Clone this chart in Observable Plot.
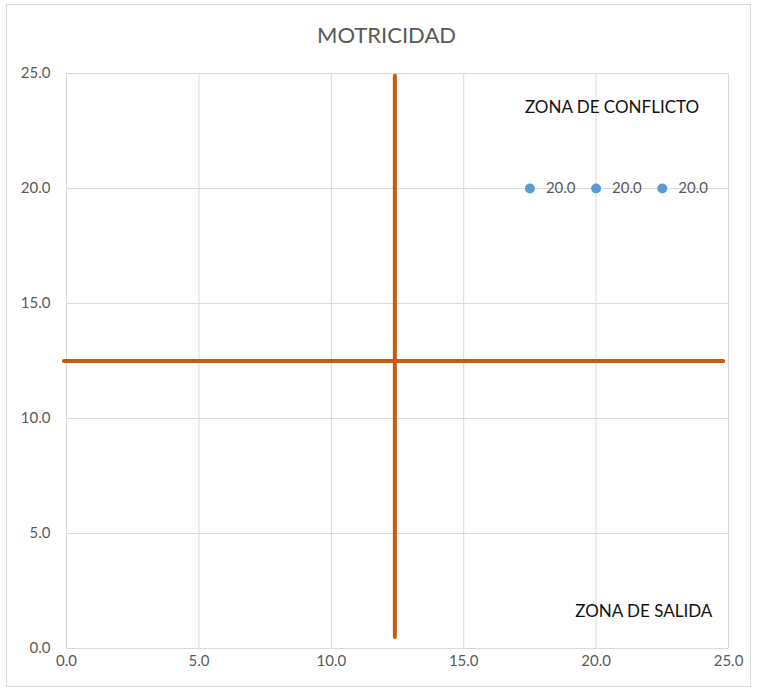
<!DOCTYPE html>
<html>
<head>
<meta charset="utf-8">
<script src="https://cdn.jsdelivr.net/npm/d3@7"></script>
<script src="https://cdn.jsdelivr.net/npm/@observablehq/plot@0.6"></script>
<style>
  html, body { margin: 0; padding: 0; background: #fff; }
  #wrap { position: relative; width: 757px; height: 690px; overflow: hidden; }
  #border { position: absolute; left: 6px; top: 4px; width: 745px; height: 683px; border: 1px solid #d9d9d9; box-sizing: border-box; }
  #title { position: absolute; left: 0; top: 21px; width: 773px; text-align: center; font-family: Lato, "Open Sans", sans-serif; font-size: 22px; color: #595959; }
  #chart { position: absolute; left: 0; top: 0; }
</style>
</head>
<body>
<div id="wrap">
  <div id="border"></div>
  <div id="chart"></div>
  <div id="title">MOTRICIDAD</div>
</div>
<script>
const tickValues = [0, 5, 10, 15, 20, 25];
const pointX = [17.5, 20, 22.5];
const pointY = [20, 20, 20];
const hLineX = [-0.1, 24.8];
const hLineY = [12.5, 12.5];
const vLineX = [12.4, 12.4];
const vLineY = [0.5, 24.9];
const zoneLabels = ["ZONA DE CONFLICTO", "ZONA DE SALIDA"];
const zoneX = [20.6, 21.8];
const zoneY = [23.5, 1.6];

const points = pointX.map((x, i) => ({x, y: pointY[i]}));
const hLine = hLineX.map((x, i) => ({x, y: hLineY[i]}));
const vLine = vLineX.map((x, i) => ({x, y: vLineY[i]}));
const zones = zoneLabels.map((t, i) => ({t, x: zoneX[i], y: zoneY[i]}));
const fmt = d3.format(".1f");

const chart = Plot.plot({
  width: 757,
  height: 690,
  marginLeft: 66,
  marginRight: 29,
  marginTop: 73,
  marginBottom: 42,
  style: {fontFamily: "Lato, 'Open Sans', sans-serif", fontSize: "14px", color: "#595959", background: "transparent"},
  x: {domain: [0, 25], ticks: tickValues, tickFormat: fmt, label: null},
  y: {domain: [0, 25], ticks: tickValues, tickFormat: fmt, label: null},
  marks: [
    Plot.gridX(tickValues, {stroke: "#d9d9d9", strokeOpacity: 1}),
    Plot.gridY(tickValues, {stroke: "#d9d9d9", strokeOpacity: 1}),
    Plot.axisX({ticks: tickValues, tickFormat: fmt, tickSize: 0, tickPadding: 7, fill: "#595959", fontSize: 15}),
    Plot.axisY({ticks: tickValues, tickFormat: fmt, tickSize: 0, tickPadding: 16, fill: "#595959", fontSize: 15}),
    Plot.line(hLine, {x: "x", y: "y", stroke: "#C55A11", strokeWidth: 4}),
    Plot.line(vLine, {x: "x", y: "y", stroke: "#C55A11", strokeWidth: 4}),
    Plot.dot(points, {x: "x", y: "y", r: 5, fill: "#5B9BD5", stroke: "none"}),
    Plot.text(points, {x: "x", y: "y", text: d => fmt(d.y), dx: 16, textAnchor: "start", fill: "#595959", fontSize: 15}),
    Plot.text(zones, {x: "x", y: "y", text: "t", fill: "#111", fontSize: 17})
  ]
});
document.getElementById("chart").appendChild(chart);
</script>
</body>
</html>
